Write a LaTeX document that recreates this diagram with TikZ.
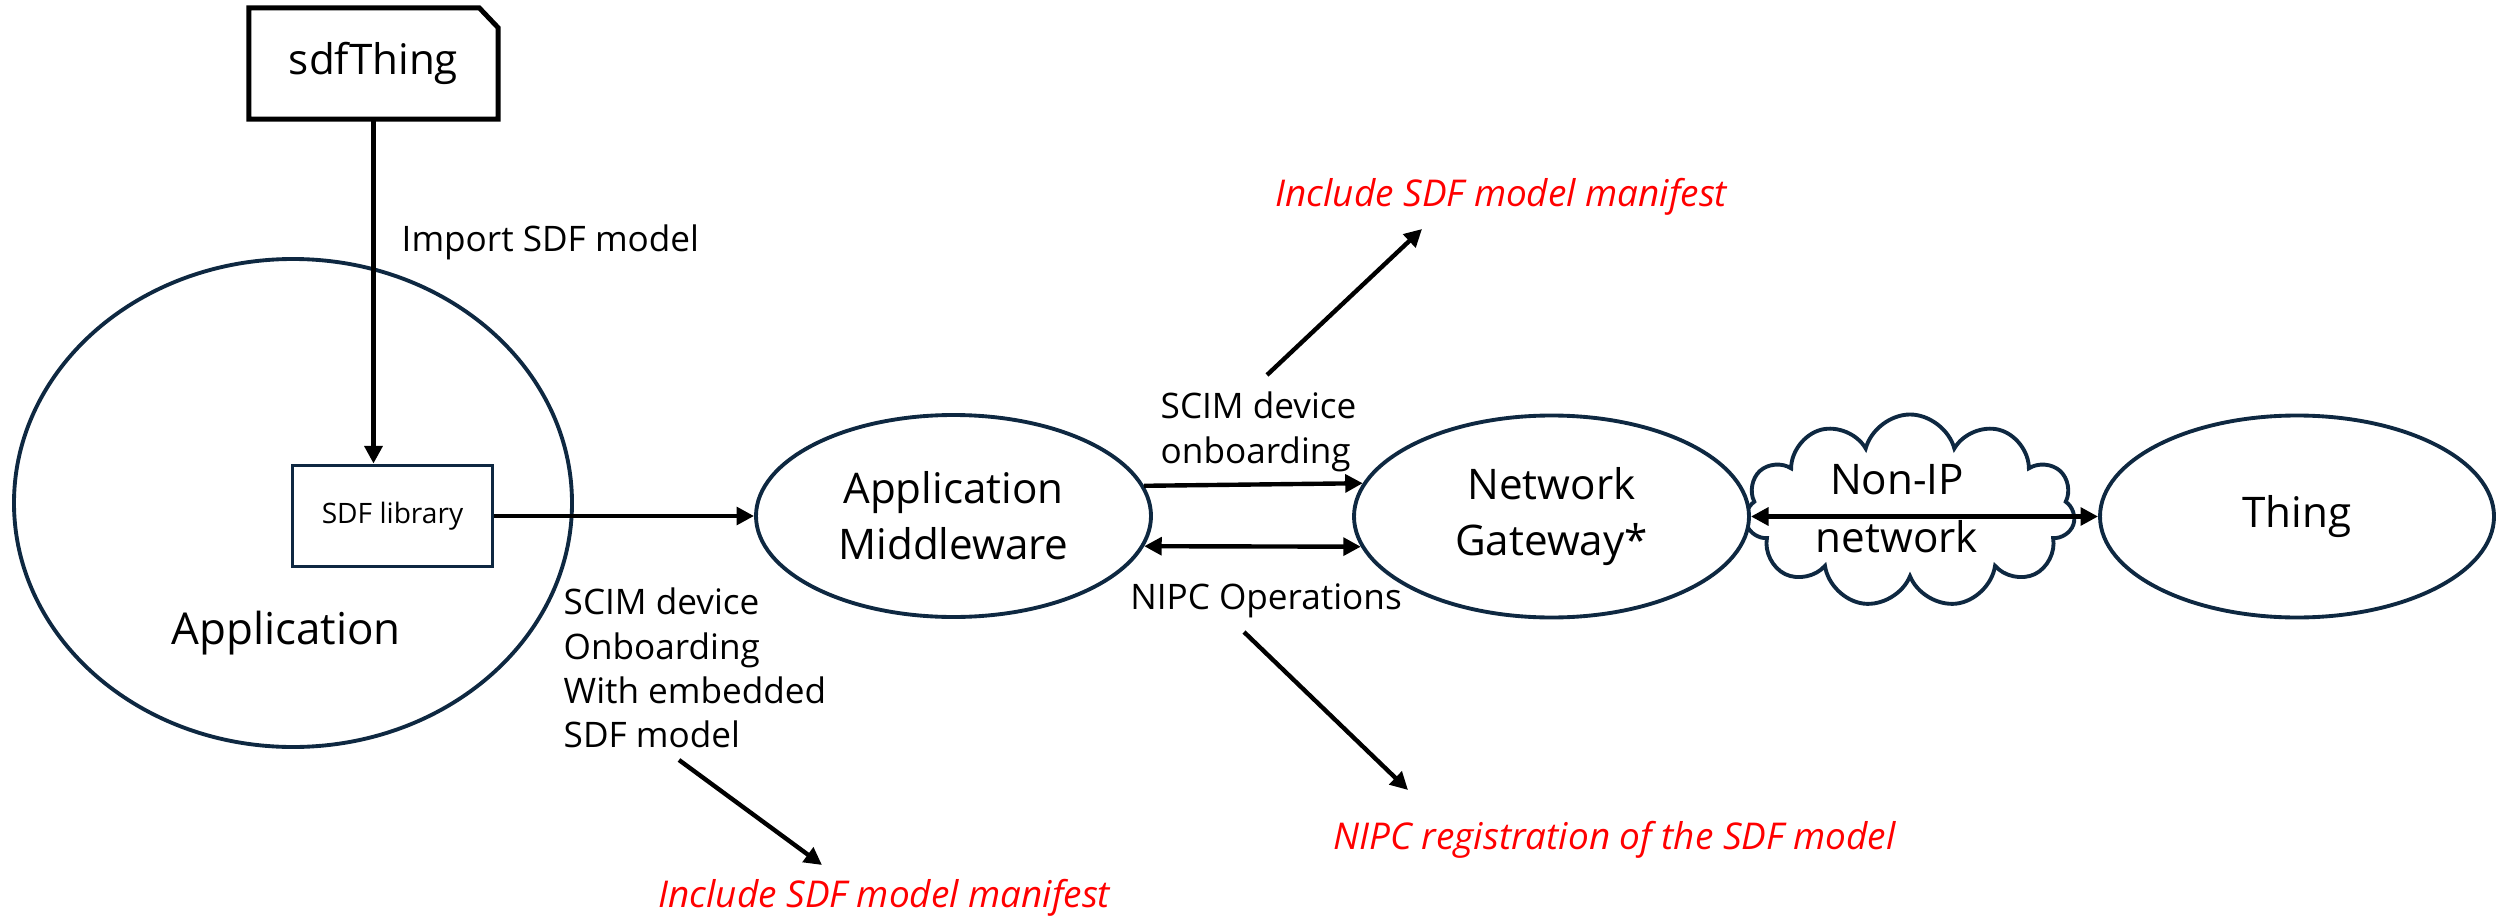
\documentclass[tikz,border=0pt]{standalone}
\usepackage{fontspec}
\setmainfont{Open Sans}
\usetikzlibrary{shapes.geometric, shapes.symbols, arrows.meta, positioning}
\definecolor{navy}{HTML}{0E2841}

\begin{document}
\begin{tikzpicture}[
    ell/.style={draw=navy, ellipse, line width=1.1pt, inner sep=0pt, align=center, font=\fontsize{12}{16}\selectfont},
    docbox/.style={rectangle, minimum width=2.48cm, minimum height=1.10cm, font=\fontsize{12}{16}\selectfont},
    libbox/.style={draw=navy, rectangle, line width=1.1pt, minimum width=2.0cm, minimum height=1.01cm, font=\fontsize{8}{10}\selectfont},
    cloudnet/.style={draw=navy, cloud, cloud puffs=11, cloud ignores aspect, line width=1.1pt, minimum width=3.3cm, minimum height=1.93cm},
    lbl/.style={align=left, font=\fontsize{10}{12.6}\selectfont, inner sep=0pt},
    note/.style={text=red, font=\fontsize{10.5}{13}\selectfont\itshape, inner sep=0pt},
    arrow/.style={-{Triangle[length=5pt,width=5pt]}, line width=1.25pt},
    biarrow/.style={{Triangle[length=5pt,width=5pt]}-{Triangle[length=5pt,width=5pt]}, line width=1.25pt}
]
\useasboundingbox (0,0) rectangle (24.97,-9.21);

% Model source
\node[docbox] (sdf) at (3.735,-0.635) {sdfThing};
\draw[line width=1.4pt] (sdf.south west) -- (sdf.north west) -- ([xshift=-0.19cm]sdf.north east)
    -- ([yshift=-0.2cm]sdf.north east) -- (sdf.south east) -- cycle;

% Application side
\node[ell, minimum width=5.58cm, minimum height=4.88cm] (app) at (2.93,-5.03) {};
\node[font=\fontsize{12.5}{16}\selectfont] (apptxt) at (2.86,-6.33) {Application};
\node[libbox] (lib) at (3.925,-5.16) {SDF library};

% Middle and network side
\node[ell, minimum width=3.95cm, minimum height=2.02cm] (mw) at (9.535,-5.16) {Application\\Middleware};
\node[cloudnet] (net) at (19.10,-5.11) {};
\node[ell, fill=white, minimum width=3.95cm, minimum height=2.02cm] (gw) at (15.515,-5.165) {Network\\Gateway*};
\node[ell, minimum width=3.94cm, minimum height=2.02cm] (thing) at (22.97,-5.165) {Thing};
\node[align=center, font=\fontsize{12}{16.5}\selectfont] (nettxt) at (18.97,-5.09) {Non-IP\\network};

% Labels
\node[lbl, anchor=west] (imp) at (4.01,-2.42) {Import SDF model};
\node[lbl, anchor=west] (onb) at (11.60,-4.32) {SCIM device\\onboarding};
\node[lbl] (ops) at (12.66,-6.01) {NIPC Operations};
\node[lbl, anchor=west] (emb) at (5.63,-6.68) {SCIM device\\Onboarding\\With embedded\\SDF model};

% Notes
\node[note, anchor=west] (mantop) at (12.75,-1.97) {Include SDF model manifest};
\node[note, anchor=west] (manlow) at (6.58,-8.98) {Include SDF model manifest};
\node[note, anchor=west] (nipcreg) at (13.33,-8.40) {NIPC registration of the SDF model};

\coordinate (upS) at (12.67,-3.75);
\coordinate (upE) at (14.22,-2.29);
\coordinate (dnS) at (12.44,-6.32);
\coordinate (dnE) at (14.08,-7.90);
\coordinate (lowS) at (6.79,-7.60);
\coordinate (lowE) at (8.22,-8.65);

% Arrows
\draw[arrow] (sdf.south) -- (sdf.south |- lib.north);
\draw[arrow] (lib.east) -- (lib.east -| mw.west);
\draw[arrow] (mw.9.3) -- (gw.170.7);
\draw[biarrow] (mw.-9.3) -- (gw.189.3);
\draw[biarrow] (gw.east) -- (thing.west);
\draw[arrow] (upS) -- (upE);
\draw[arrow] (dnS) -- (dnE);
\draw[arrow] (lowS) -- (lowE);

\end{tikzpicture}
\end{document}
